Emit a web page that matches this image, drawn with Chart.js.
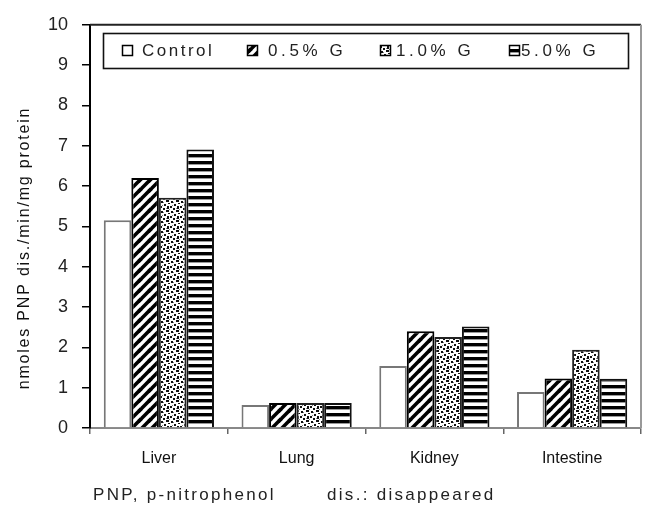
<!DOCTYPE html>
<html>
<head>
<meta charset="utf-8">
<script src="https://cdn.jsdelivr.net/npm/chart.js@4.4.0/dist/chart.umd.min.js"></script>
<style>
  html, body { margin: 0; padding: 0; background: #fff; }
  #wrap { width: 646px; height: 510px; }
</style>
</head>
<body>
<div id="wrap"><canvas id="c" width="646" height="510"></canvas></div>
<script>
const categories = ['Liver', 'Lung', 'Kidney', 'Intestine'];
const seriesNames = ['Control', '0.5% G', '1.0% G', '5.0% G'];
const controlValues = [5.15, 0.57, 1.54, 0.89];
const g05Values = [6.2, 0.62, 2.40, 1.23];
const g10Values = [5.71, 0.62, 2.26, 1.94];
const g50Values = [6.91, 0.62, 2.52, 1.22];
const yTitle = 'nmoles PNP dis./min/mg protein';
const footLeft = 'PNP, p-nitrophenol';
const footRight = 'dis.: disappeared';

function makeTile(w, h, draw) {
  const c = document.createElement('canvas');
  c.width = w; c.height = h;
  const x = c.getContext('2d');
  x.fillStyle = '#fff';
  x.fillRect(0, 0, w, h);
  draw(x);
  return c;
}
const ctx0 = document.getElementById('c').getContext('2d');
const diagTile = makeTile(10, 10, x => {
  x.strokeStyle = '#000'; x.lineWidth = 3.6;
  [[-10, 10, 10, -10], [0, 10, 10, 0], [0, 20, 20, 0], [-5, 5, 5, -5], [5, 15, 15, 5]].forEach(s => {
    x.beginPath(); x.moveTo(s[0], s[1]); x.lineTo(s[2], s[3]); x.stroke();
  });
});
const dotTile = makeTile(10, 10, x => {
  x.fillStyle = '#111';
  [[1,1,2,2],[6,0,3,2],[4,4,2,2],[0,6,2,2],[7,6,2,3],[3,8,2,2],[8,3,2,1]].forEach(r => x.fillRect(r[0], r[1], r[2], r[3]));
  x.fillStyle = '#888';
  [[3,2,1,1],[2,5,1,1],[6,8,1,1],[9,9,1,1]].forEach(r => x.fillRect(r[0], r[1], r[2], r[3]));
});
const horizTile = makeTile(4, 7, x => {
  x.fillStyle = '#000'; x.fillRect(0, 0, 4, 3);
  x.fillStyle = '#999'; x.fillRect(0, 3, 4, 1);
});
const diagPat = ctx0.createPattern(diagTile, 'repeat');
const dotPat = ctx0.createPattern(dotTile, 'repeat');
const horizPat = ctx0.createPattern(horizTile, 'repeat');

const fills = ['#ffffff', diagPat, dotPat, horizPat];
const borders = ['#777777', '#000000', '#222222', '#111111'];
const values = [controlValues, g05Values, g10Values, g50Values];

const FONT = '"Liberation Sans", Arial, sans-serif';

const decor = {
  id: 'decor',
  afterDraw(chart) {
    const c = chart.ctx;
    const a = chart.chartArea;
    c.save();
    // plot frame top and right
    c.lineWidth = 2;
    c.strokeStyle = '#222';
    c.beginPath(); c.moveTo(a.left, a.top); c.lineTo(a.right, a.top); c.stroke();
    c.strokeStyle = '#999';
    c.beginPath(); c.moveTo(a.right, a.top); c.lineTo(a.right, a.bottom); c.stroke();

    // legend box
    c.lineWidth = 1.6;
    c.strokeStyle = '#111';
    c.fillStyle = '#fff';
    c.fillRect(103.5, 33.5, 525, 35);
    c.strokeRect(103.5, 33.5, 525, 35);
    const symX = [122, 247, 380, 509];
    const txtX = [142, 268, 396, 521];
    const spacing = ['2.5px', '3.6px', '3.6px', '3.6px'];
    c.font = '17px ' + FONT;
    c.textBaseline = 'middle';
    c.textAlign = 'left';
    chart.data.datasets.forEach((ds, i) => {
      c.fillStyle = ds.backgroundColor;
      c.fillRect(symX[i], 45, 11, 11);
      c.lineWidth = 1.5;
      c.strokeStyle = '#000';
      c.strokeRect(symX[i] + 0.5, 45.5, 10, 10);
      c.fillStyle = '#222';
      try { c.letterSpacing = spacing[i]; } catch (e) {}
      c.fillText(ds.label, txtX[i], 51);
    });

    // y axis title
    c.save();
    try { c.letterSpacing = '1.8px'; } catch (e) {}
    c.translate(25, 248);
    c.rotate(-Math.PI / 2);
    c.font = '16px ' + FONT;
    c.textAlign = 'center';
    c.fillStyle = '#111';
    c.fillText(yTitle, 0, 0);
    c.restore();

    // footnote
    try { c.letterSpacing = '2.3px'; } catch (e) {}
    c.font = '17px ' + FONT;
    c.fillStyle = '#222';
    c.textAlign = 'left';
    c.fillText(footLeft, 93, 495);
    c.fillText(footRight, 327, 495);
    c.restore();
  }
};

new Chart(document.getElementById('c'), {
  type: 'bar',
  data: {
    labels: categories,
    datasets: seriesNames.map((n, i) => ({
      label: n,
      data: values[i],
      backgroundColor: fills[i],
      borderColor: borders[i],
      borderWidth: 2,
      borderSkipped: 'bottom',
      categoryPercentage: 0.8,
      barPercentage: 1.0
    }))
  },
  options: {
    responsive: false,
    devicePixelRatio: 1,
    animation: false,
    layout: { padding: { left: 0, right: 5, top: 20, bottom: 22 } },
    plugins: {
      legend: { display: false },
      tooltip: { enabled: false },
      title: { display: false }
    },
    scales: {
      x: {
        grid: { display: true, drawOnChartArea: false, drawTicks: true, tickLength: 6, offset: true, color: '#666', lineWidth: 1.5 },
        border: { display: true, color: '#888', width: 2 },
        ticks: { color: '#111', font: { family: FONT, size: 16 }, padding: 15, maxRotation: 0 },
        afterFit(s) { s.height = 60; }
      },
      y: {
        min: 0, max: 10,
        grid: { display: true, drawOnChartArea: false, drawTicks: true, tickLength: 8, color: '#000', lineWidth: 1.5 },
        border: { display: true, color: '#000', width: 2 },
        ticks: { stepSize: 1, color: '#222', font: { family: FONT, size: 18 }, padding: 14 },
        afterFit(s) { s.width = 90; }
      }
    }
  },
  plugins: [decor]
});
</script>
</body>
</html>
